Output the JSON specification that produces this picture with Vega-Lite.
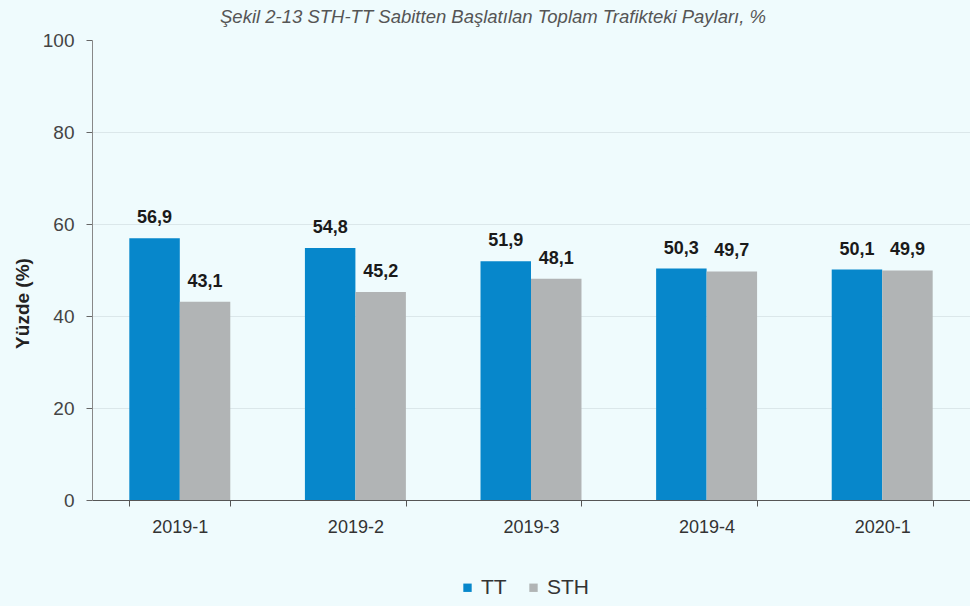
{
  "$schema": "https://vega.github.io/schema/vega-lite/v6.json",
  "width": 878,
  "height": 460,
  "autosize": {"type": "none"},
  "padding": {"left": 92, "top": 40, "right": 0, "bottom": 106},
  "background": "#effbfd",
  "config": {"view": {"stroke": null}},
  "title": {
    "text": "Şekil 2-13 STH-TT Sabitten Başlatılan Toplam Trafikteki Payları, %",
    "font": "Liberation Sans",
    "fontStyle": "italic",
    "fontWeight": "normal",
    "fontSize": 18.5,
    "color": "#555555",
    "anchor": "middle",
    "frame": "group",
    "dx": -38,
    "offset": 5
  },
  "data": {
    "values": [
      {"period": "2019-1", "series": "TT", "value": 56.9, "label": "56,9"},
      {"period": "2019-1", "series": "STH", "value": 43.1, "label": "43,1"},
      {"period": "2019-2", "series": "TT", "value": 54.8, "label": "54,8"},
      {"period": "2019-2", "series": "STH", "value": 45.2, "label": "45,2"},
      {"period": "2019-3", "series": "TT", "value": 51.9, "label": "51,9"},
      {"period": "2019-3", "series": "STH", "value": 48.1, "label": "48,1"},
      {"period": "2019-4", "series": "TT", "value": 50.3, "label": "50,3"},
      {"period": "2019-4", "series": "STH", "value": 49.7, "label": "49,7"},
      {"period": "2020-1", "series": "TT", "value": 50.1, "label": "50,1"},
      {"period": "2020-1", "series": "STH", "value": 49.9, "label": "49,9"}
    ]
  },
  "encoding": {
    "x": {
      "field": "period",
      "type": "nominal",
      "sort": null,
      "scale": {"paddingInner": 0.425, "paddingOuter": 0.2125},
      "axis": {
        "title": null,
        "labelAngle": 0,
        "labelFont": "Liberation Sans",
        "labelFontSize": 18,
        "labelColor": "#333333",
        "labelPadding": 12,
        "tickBand": "extent",
        "ticks": true,
        "tickSize": 6,
        "tickColor": "#555555",
        "domainColor": "#555555",
        "domainWidth": 1.2,
        "grid": false
      }
    },
    "xOffset": {
      "field": "series",
      "type": "nominal",
      "sort": ["TT", "STH"],
      "scale": {"paddingInner": 0, "paddingOuter": 0}
    },
    "y": {
      "field": "value",
      "type": "quantitative",
      "scale": {"domain": [0, 100]},
      "axis": {
        "title": "Yüzde (%)",
        "titleFont": "Liberation Sans",
        "titleFontSize": 19,
        "titleFontWeight": "bold",
        "titleColor": "#222222",
        "titleX": -60,
        "titleY": 263,
        "titleBaseline": "bottom",
        "titleAngle": 270,
        "values": [0, 20, 40, 60, 80, 100],
        "labelFont": "Liberation Sans",
        "labelFontSize": 19,
        "labelColor": "#444444",
        "labelPadding": 12,
        "tickSize": 6,
        "tickColor": "#666666",
        "domainColor": "#888888",
        "grid": true,
        "gridColor": {"condition": {"test": "datum.value === 100", "value": "transparent"}, "value": "#dbe7ea"},
        "gridWidth": 1
      }
    }
  },
  "layer": [
    {
      "mark": {"type": "bar"},
      "encoding": {
        "color": {
          "field": "series",
          "type": "nominal",
          "scale": {"domain": ["TT", "STH"], "range": ["#0787cb", "#b1b4b5"]},
          "legend": {
            "title": null,
            "orient": "none",
            "legendX": 365,
            "legendY": 537,
            "direction": "horizontal",
            "symbolType": "square",
            "symbolSize": 70,
            "symbolStrokeWidth": 0,
            "labelFont": "Liberation Sans",
            "labelFontSize": 21,
            "labelColor": "#333333",
            "labelOffset": 3,
            "columnPadding": 16
          }
        }
      }
    },
    {
      "mark": {
        "type": "text",
        "baseline": "bottom",
        "dy": -11,
        "font": "Liberation Sans",
        "fontWeight": "bold",
        "fontSize": 18,
        "color": "#1a1a1a"
      },
      "encoding": {"text": {"field": "label"}}
    }
  ]
}
